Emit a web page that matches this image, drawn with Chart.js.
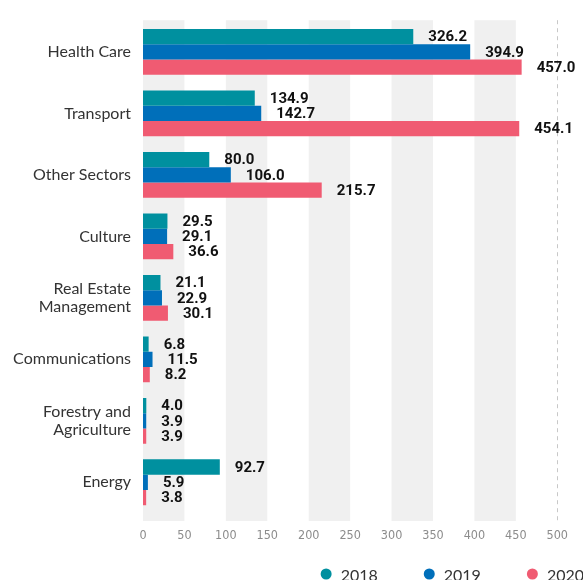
<!DOCTYPE html>
<html>
<head>
<meta charset="utf-8">
<script src="https://cdn.jsdelivr.net/npm/chart.js@4/dist/chart.umd.min.js"></script>
<style>
  html, body { margin: 0; padding: 0; background: #fff; overflow: hidden; }
  canvas { display: block; }
</style>
</head>
<body>
<canvas id="sectors" width="583" height="580"></canvas>
<script>
const categories = [
  'Health Care',
  'Transport',
  'Other Sectors',
  'Culture',
  ['Real Estate', 'Management'],
  'Communications',
  ['Forestry and', 'Agriculture'],
  'Energy'
];
const years = ['2018', '2019', '2020'];
const values2018 = [326.2, 134.9, 80.0, 29.5, 21.1, 6.8, 4.0, 92.7];
const values2019 = [394.9, 142.7, 106.0, 29.1, 22.9, 11.5, 3.9, 5.9];
const values2020 = [457.0, 454.1, 215.7, 36.6, 30.1, 8.2, 3.9, 3.8];
const xTicks = [0, 50, 100, 150, 200, 250, 300, 350, 400, 450, 500];

const colors = ['#00909f', '#006fba', '#f05b72'];
const condensed = "'DejaVu Sans Condensed', 'DejaVu Sans', sans-serif";

// grey bands on every other 50-step, dashed line at the axis max
const bands = {
  id: 'bands',
  beforeDatasetsDraw(chart) {
    const { ctx, chartArea, scales: { x } } = chart;
    const top = chartArea.top - 1;
    const bottom = chartArea.bottom + 8;
    ctx.save();
    ctx.fillStyle = '#f0f0f0';
    for (let i = 0; i < xTicks.length - 1; i += 2) {
      const x1 = x.getPixelForValue(xTicks[i]);
      const x2 = x.getPixelForValue(xTicks[i + 1]);
      ctx.fillRect(x1, top, x2 - x1, bottom - top);
    }
    const xm = Math.round(x.getPixelForValue(xTicks[xTicks.length - 1])) + 0.5;
    ctx.strokeStyle = '#c8c8c8';
    ctx.lineWidth = 1;
    ctx.setLineDash([4, 4]);
    ctx.beginPath();
    ctx.moveTo(xm, top);
    ctx.lineTo(xm, bottom);
    ctx.stroke();
    ctx.restore();
  }
};

// value next to the end of each bar
const valueLabels = {
  id: 'valueLabels',
  afterDatasetsDraw(chart) {
    const { ctx } = chart;
    ctx.save();
    ctx.font = 'bold 15px Roboto, sans-serif';
    ctx.fillStyle = '#111';
    ctx.textAlign = 'left';
    ctx.textBaseline = 'middle';
    chart.data.datasets.forEach((ds, di) => {
      chart.getDatasetMeta(di).data.forEach((bar, i) => {
        ctx.fillText(ds.data[i].toFixed(1), bar.x + 15, bar.y + 1);
      });
    });
    ctx.restore();
  }
};

// legend along the bottom, right aligned
const bottomLegend = {
  id: 'bottomLegend',
  afterDraw(chart) {
    const { ctx } = chart;
    const r = 5.5, gap = 9, spacing = 46, y = 574;
    ctx.save();
    ctx.font = "16px Lato, sans-serif";
    ctx.textBaseline = 'middle';
    const widths = chart.data.datasets.map(ds => 2 * r + gap + ctx.measureText(ds.label).width);
    const total = widths.reduce((a, b) => a + b, 0) + spacing * (widths.length - 1);
    let x = chart.width + 1 - total;
    chart.data.datasets.forEach((ds, i) => {
      ctx.fillStyle = ds.backgroundColor;
      ctx.beginPath();
      ctx.arc(x + r, y, r, 0, Math.PI * 2);
      ctx.fill();
      ctx.fillStyle = '#333';
      ctx.fillText(ds.label, x + 2 * r + gap, y + 1.5);
      x += widths[i] + spacing;
    });
    ctx.restore();
  }
};

new Chart(document.getElementById('sectors'), {
  type: 'bar',
  data: {
    labels: categories,
    datasets: [
      { label: years[0], data: values2018, backgroundColor: colors[0] },
      { label: years[1], data: values2019, backgroundColor: colors[1] },
      { label: years[2], data: values2020, backgroundColor: colors[2] }
    ]
  },
  options: {
    indexAxis: 'y',
    responsive: false,
    animation: false,
    layout: { padding: { top: 20, right: 21, bottom: 29, left: 0 } },
    datasets: {
      bar: { barPercentage: 1, categoryPercentage: 0.745, borderWidth: 0 }
    },
    plugins: {
      legend: { display: false },
      tooltip: { enabled: false }
    },
    scales: {
      x: {
        min: 0,
        max: 500,
        afterBuildTicks: scale => { scale.ticks = xTicks.map(v => ({ value: v })); },
        afterFit: scale => { scale.height = 38; },
        grid: { display: false, drawTicks: false },
        border: { display: false },
        ticks: {
          padding: 15,
          color: '#8c8c8c',
          font: { family: condensed, size: 12.5 }
        }
      },
      y: {
        afterFit: scale => { scale.width = 143; },
        grid: { display: false, drawTicks: false },
        border: { display: false },
        ticks: {
          padding: 12,
          color: '#333',
          font: { family: 'Lato, sans-serif', size: 16, lineHeight: 1.15 }
        }
      }
    }
  },
  plugins: [bands, valueLabels, bottomLegend]
});
</script>
</body>
</html>
